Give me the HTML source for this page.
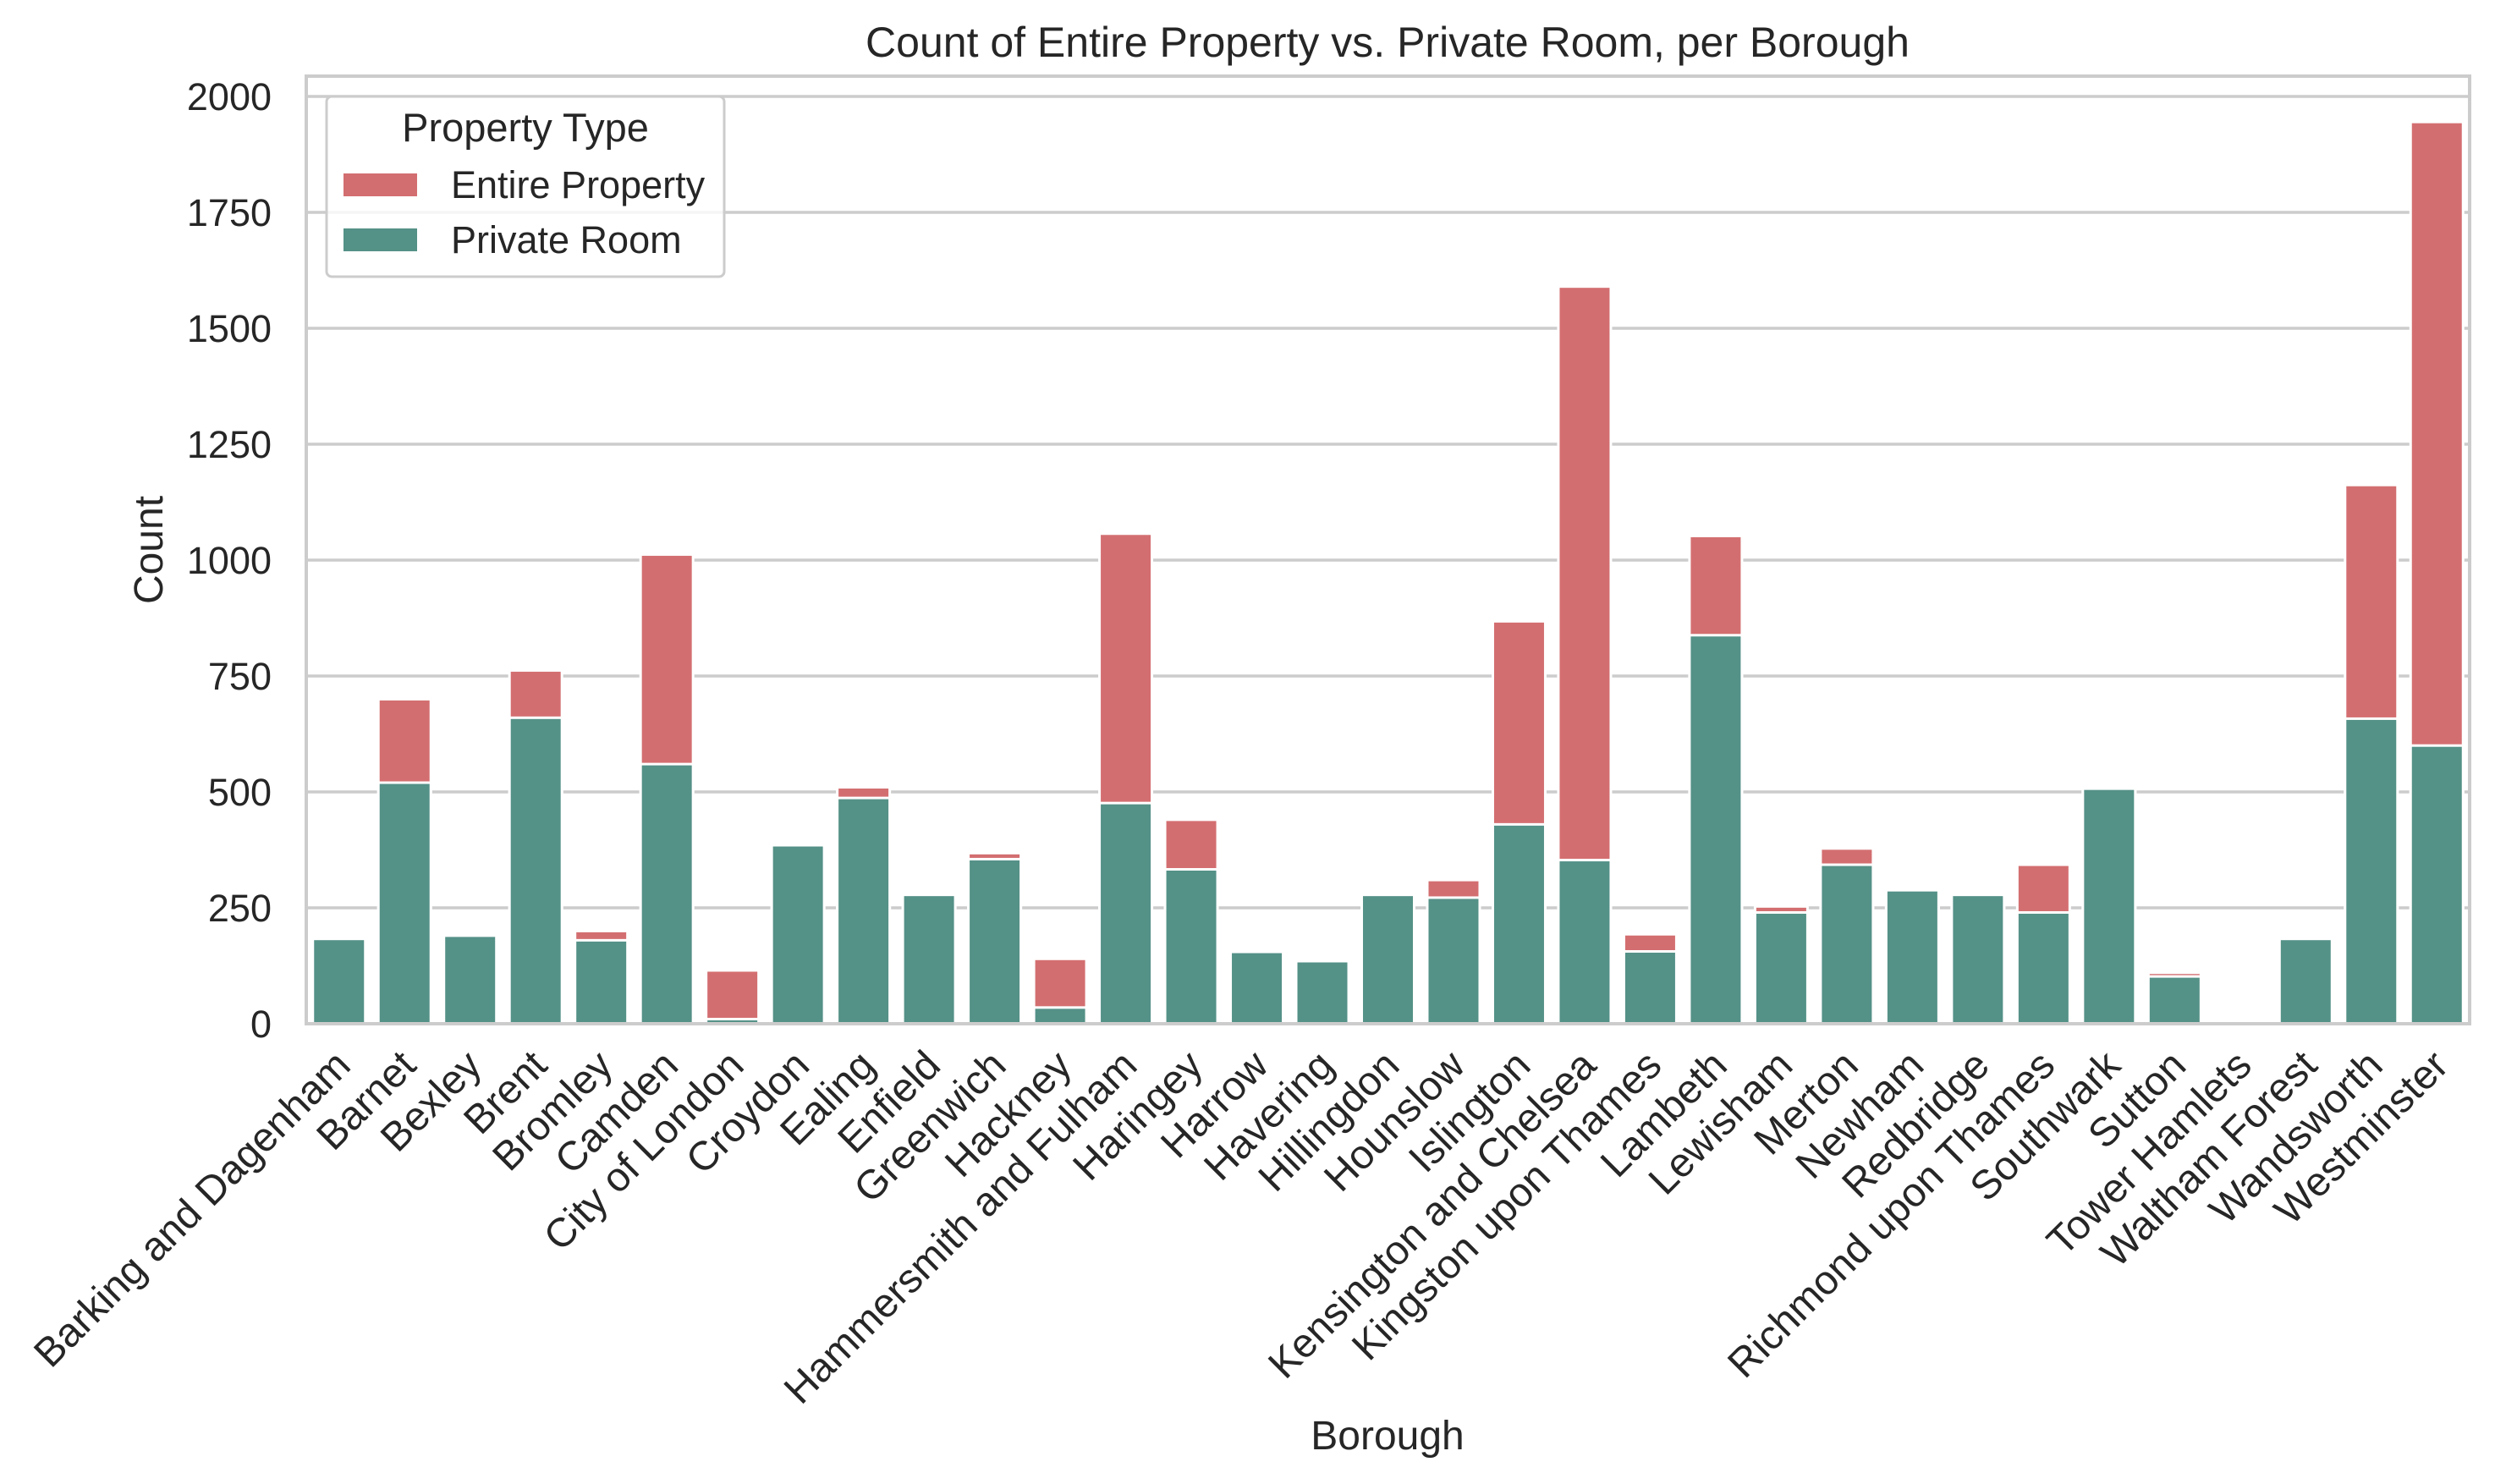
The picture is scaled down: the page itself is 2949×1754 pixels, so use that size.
<!DOCTYPE html>
<html><head><meta charset="utf-8"><style>
html,body{margin:0;padding:0;background:#fff;}
svg{display:block;font-family:"Liberation Sans",Arial,sans-serif;}
</style></head><body>
<svg id="chart" width="2949" height="1754" viewBox="0 0 2949 1754" xmlns="http://www.w3.org/2000/svg">
<rect width="2949" height="1754" fill="#fff"/>
<g id="grid"></g>
<g id="bars"></g>
<rect x="362" y="90" width="2557" height="1120" fill="none" stroke="#cccccc" stroke-width="4"/>
<g id="yticks"></g>
<g id="xticks"></g>
<text x="1640" y="67" font-size="50" fill="#262626" text-anchor="middle">Count of Entire Property vs. Private Room, per Borough</text>
<text x="1640" y="1713" font-size="48" fill="#262626" text-anchor="middle">Borough</text>
<text transform="translate(192,650) rotate(-90)" font-size="48" fill="#262626" text-anchor="middle">Count</text>
<g>
<rect x="386" y="114" width="470" height="213" rx="6" fill="#fff" fill-opacity="0.8" stroke="#cccccc" stroke-width="3"/>
<text x="621" y="167" font-size="47" fill="#262626" text-anchor="middle">Property Type</text>
<rect x="406" y="205" width="87" height="27" fill="#d36e70"/>
<text x="533" y="234" font-size="45" fill="#262626">Entire Property</text>
<rect x="406" y="270" width="87" height="27" fill="#549187"/>
<text x="533" y="299" font-size="45" fill="#262626">Private Room</text>
</g>
</svg>
<script>
const boroughs = ["Barking and Dagenham","Barnet","Bexley","Brent","Bromley","Camden","City of London","Croydon","Ealing","Enfield","Greenwich","Hackney","Hammersmith and Fulham","Haringey","Harrow","Havering","Hillingdon","Hounslow","Islington","Kensington and Chelsea","Kingston upon Thames","Lambeth","Lewisham","Merton","Newham","Redbridge","Richmond upon Thames","Southwark","Sutton","Tower Hamlets","Waltham Forest","Wandsworth","Westminster"];
const entireTotal = [183,700,190,762,200,1012,115,385,510,278,368,140,1057,440,155,135,278,310,868,1590,193,1052,253,378,288,278,343,507,110,0,183,1162,1945];
const privateRoom = [183,520,190,660,180,560,10,385,487,278,355,35,476,333,155,135,278,272,430,353,156,838,240,343,288,278,240,507,102,0,183,658,600];
const yTicks = [0,250,500,750,1000,1250,1500,1750,2000];

const NS = "http://www.w3.org/2000/svg";
const X0 = 362, X1 = 2919, Y0 = 1210, YTOP = 114;
const band = (X1 - X0) / boroughs.length;
function yScale(v){ return Y0 - v * (Y0 - YTOP) / 2000; }
function xCenter(i){ return X0 + band * (i + 0.5); }

const grid = document.getElementById('grid');
const yt = document.getElementById('yticks');
yTicks.forEach(t => {
  const l = document.createElementNS(NS,'line');
  l.setAttribute('x1', X0); l.setAttribute('x2', X1);
  l.setAttribute('y1', yScale(t)); l.setAttribute('y2', yScale(t));
  l.setAttribute('stroke', '#cccccc'); l.setAttribute('stroke-width', '3.5');
  
  
  grid.appendChild(l);
  const tx = document.createElementNS(NS,'text');
  tx.setAttribute('x', 321); tx.setAttribute('y', yScale(t) + 16);
  tx.setAttribute('font-size', '45'); tx.setAttribute('fill', '#262626');
  tx.setAttribute('text-anchor', 'end');
  tx.textContent = t;
  
  
  yt.appendChild(tx);
});

const bars = document.getElementById('bars');
const xt = document.getElementById('xticks');
const bw = band * 0.8;
boroughs.forEach((b, i) => {
  const cx = xCenter(i);
  if (entireTotal[i] > 0) {
    const r = document.createElementNS(NS,'rect');
    r.setAttribute('x', cx - bw/2); r.setAttribute('width', bw);
    r.setAttribute('y', yScale(entireTotal[i])); r.setAttribute('height', Y0 - yScale(entireTotal[i]));
    r.setAttribute('fill', '#d36e70'); r.setAttribute('stroke', '#fff'); r.setAttribute('stroke-width', '3');
    
    
    bars.appendChild(r);
  }
  if (privateRoom[i] > 0) {
    const r2 = document.createElementNS(NS,'rect');
    r2.setAttribute('x', cx - bw/2); r2.setAttribute('width', bw);
    r2.setAttribute('y', yScale(privateRoom[i])); r2.setAttribute('height', Y0 - yScale(privateRoom[i]));
    r2.setAttribute('fill', '#549187'); r2.setAttribute('stroke', '#fff'); r2.setAttribute('stroke-width', '3');
    
    
    bars.appendChild(r2);
  }
  const tx = document.createElementNS(NS,'text');
  tx.setAttribute('transform', 'translate(' + (cx + 16) + ',1262) rotate(-45)');
  tx.setAttribute('font-size', '48'); tx.setAttribute('fill', '#262626');
  tx.setAttribute('text-anchor', 'end');
  tx.textContent = b;
  
  
  xt.appendChild(tx);
});
</script>
</body></html>
